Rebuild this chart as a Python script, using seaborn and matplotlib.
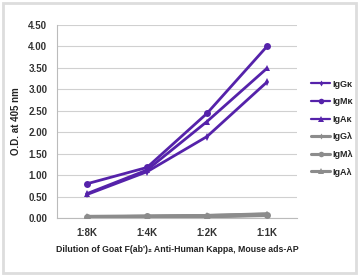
import matplotlib
matplotlib.use("Agg")
import matplotlib.pyplot as plt
import seaborn as sns
import pandas as pd
import numpy as np
from matplotlib.patches import Rectangle
from matplotlib.lines import Line2D

dilutions = ["1:8K", "1:4K", "1:2K", "1:1K"]
series_names = ["IgGκ", "IgMκ", "IgAκ", "IgGλ", "IgMλ", "IgAλ"]
igg_k = [0.55, 1.08, 1.90, 3.17]
igm_k = [0.80, 1.18, 2.44, 4.00]
iga_k = [0.57, 1.12, 2.25, 3.49]
igg_l = [0.02, 0.03, 0.04, 0.07]
igm_l = [0.03, 0.04, 0.05, 0.08]
iga_l = [0.02, 0.03, 0.05, 0.09]
yticks = [0.0, 0.5, 1.0, 1.5, 2.0, 2.5, 3.0, 3.5, 4.0, 4.5]

values = [igg_k, igm_k, iga_k, igg_l, igm_l, iga_l]
rows = []
for name, vals in zip(series_names, values):
    for d, v in zip(dilutions, vals):
        rows.append({"Dilution": d, "OD": v, "Series": name})
df = pd.DataFrame(rows)

sns.set_style("white")
plt.rcParams['font.family'] = ['Liberation Sans', 'DejaVu Sans']
plt.rcParams['font.weight'] = 'bold'

purple = "#5522aa"
gray = "#8c8c8c"
colors = [purple] * 3 + [gray] * 3
markers = ["d", "o", "^", "d", "o", "^"]
lws = [2.0, 2.0, 2.0, 2.8, 2.8, 2.8]
msizes = [4, 5, 5, 4, 5, 5]

fig = plt.figure(figsize=(3.59, 2.75), dpi=100)
ax = fig.add_axes([0.159, 0.207, 0.668, 0.702])

df["x"] = df["Dilution"].map({d: i for i, d in enumerate(dilutions)})
for i, name in enumerate(series_names[::-1]):
    j = len(series_names) - 1 - i
    sub = df[df["Series"] == name]
    sns.lineplot(data=sub, x="x", y="OD", ax=ax, color=colors[j], marker=markers[j],
                 markersize=msizes[j], linewidth=lws[j], markeredgewidth=0,
                 label=name, legend=False, zorder=3 + (j < 3))

ax.set_xlim(-0.5, 3.5)
ax.set_ylim(0, 4.5)
ax.set_yticks(yticks)
ax.set_yticklabels([f"{t:.2f}" for t in yticks], fontsize=7, fontweight='bold', color="#333333")
ax.set_xticks(range(4))
ax.set_xticklabels(dilutions, fontsize=7, fontweight='bold', color="#333333")
ax.set_xticks([-0.5, 0.5, 1.5, 2.5, 3.5], minor=True)
ax.tick_params(axis='x', which='major', length=0, pad=7)
ax.tick_params(axis='x', which='minor', length=3, color="#bbbbbb", direction='out')
ax.tick_params(axis='y', length=3, color="#bbbbbb", direction='out', pad=4)
ax.yaxis.grid(True, color="#d0d0d0", linewidth=0.8)
ax.set_axisbelow(True)
for s in ["top", "right"]:
    ax.spines[s].set_visible(False)
for s in ["left", "bottom"]:
    ax.spines[s].set_color("#bbbbbb")
    ax.spines[s].set_linewidth(0.8)
ax.set_xlabel("Dilution of Goat F(ab')₂ Anti-Human Kappa, Mouse ads-AP", fontsize=6.3,
              fontweight='bold', color="#222222", labelpad=5)
ax.set_ylabel("O.D. at 405 nm", fontsize=7, fontweight='bold', color="#222222", labelpad=5)

handles = [Line2D([0], [0], color=colors[k], marker=markers[k], markersize=msizes[k] - 1,
                  linewidth=lws[k] * 0.8, markeredgewidth=0) for k in range(6)]
fig.legend(handles, series_names, loc="upper left", bbox_to_anchor=(0.845, 0.74),
           frameon=False, handlelength=2.0, handletextpad=0.3,
           labelspacing=0.95, prop={'weight': 'bold', 'size': 6.5})

fig.patches.append(Rectangle((0.008, 0.008), 0.984, 0.982, transform=fig.transFigure,
                             fill=False, edgecolor="#dddddd", linewidth=2))

fig.savefig("out.png", dpi=100)
